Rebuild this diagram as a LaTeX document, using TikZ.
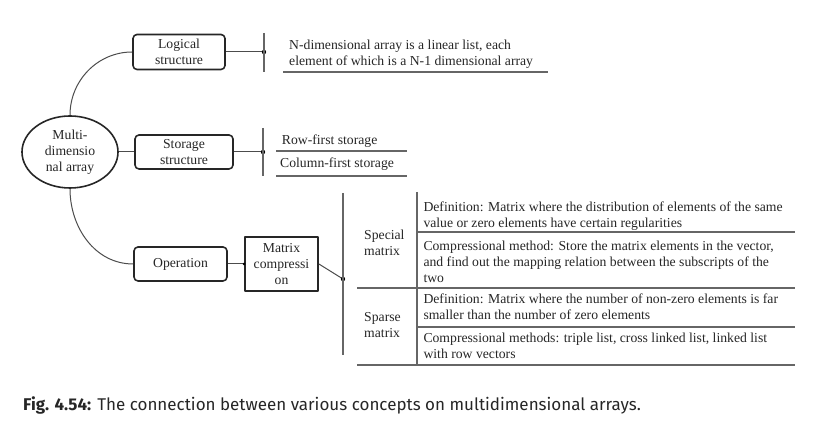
\documentclass[tikz,border=0pt]{standalone}
\usepackage{fontspec}
\setmainfont{Liberation Serif}
\newfontfamily\capfont{Fira Sans}
\usetikzlibrary{shapes.geometric}

\begin{document}
\begin{tikzpicture}[x=1pt, y=1pt, line join=round,
  every node/.style={font=\fontsize{13.7}{16}\selectfont, text=black!85},
  rbox/.style={draw=black!85, line width=1.6pt, rounded corners=4pt,
               align=center, inner sep=0pt},
  link/.style={draw=black!70, line width=1pt},
  rule/.style={draw=black!60, line width=1.1pt},
  cell/.style={anchor=north west, inner sep=0pt, align=left},
  jdot/.style={black, radius=2.2pt}]
  \useasboundingbox (0,0) rectangle (833,435);
  % Root concept
  \node[ellipse, draw=black!85, line width=1.6pt, minimum width=96,
        minimum height=72, inner sep=0pt, align=center] (multi) at (70,283)
        {Multi-\\dimensio\\nal array};
  % Three branches
  \node[rbox, minimum width=92, minimum height=35] (logical) at (179,383) {Logical\\structure};
  \node[rbox, minimum width=98, minimum height=34] (storage) at (184,283) {Storage\\structure};
  \node[rbox, minimum width=93, minimum height=34] (oper)    at (180.5,171) {Operation};
  \node[draw=black!85, line width=1.8pt, minimum width=73, minimum height=54,
        inner sep=0pt, align=center] (mcomp) at (281.5,171) {Matrix\\compressi\\on};
  % Junction points on the brackets
  \coordinate (j1) at (264,383);
  \coordinate (j2) at (263,283);
  \coordinate (j3) at (343,156);
  % Connectors
  \draw[link] (multi.north) to[out=90,in=180] (logical.west);
  \draw[link] (multi.south) to[out=-90,in=180] (oper.west);
  \draw[link] (multi) -- (storage);
  \draw[link] (logical) -- (j1);
  \draw[link] (storage) -- (j2);
  \draw[link] (oper) -- (mcomp);
  \draw[link] (mcomp.east) -- (j3);
  \fill[jdot] (j1) circle;
  \fill[jdot] (j2) circle;
  \fill[jdot] (j3) circle;
  \fill[black, radius=1.5pt] (mcomp.west) circle;
  % Brackets
  \draw[rule] (264,402) -- (264,363);
  \draw[rule] (263,307) -- (263,259);
  \draw[rule] (343,242) -- (343,80);
  % Logical structure
  \node[cell] (ndim) at (289,395.5)
    {N-dimensional array is a linear list, each\\element of which is a N-1 dimensional array};
  \draw[rule] (283,363) -- (548,363);
  % Storage structure
  \node[anchor=base west, inner sep=0pt] (rowf) at (281.7,290) {Row-first storage};
  \node[anchor=base west, inner sep=0pt] (colf) at (280,267) {Column-first storage};
  \draw[rule] (276,284) -- (407,284);
  \draw[rule] (276,259) -- (407,259);
  % Matrix compression table
  \node[anchor=west, inner sep=0pt, align=left] (special) at (364,192.5) {Special\\matrix};
  \node[anchor=west, inner sep=0pt, align=left] (sparse)  at (364,110)   {Sparse\\matrix};
  \draw[rule] (417,243) -- (417,70);
  \draw[rule] (417,203) -- (795,203);
  \draw[rule] (357,147) -- (795,147);
  \draw[rule] (417,108) -- (795,108);
  \draw[rule] (357,70)  -- (795,70);
  \node[cell] (spdef) at (423.3,233.5)
    {Definition: Matrix where the distribution of elements of the same\\value or zero elements have certain regularities};
  \node[cell] (spcomp) at (423.3,194.5)
    {Compressional method: Store the matrix elements in the vector,\\and find out the mapping relation between the subscripts of the\\two};
  \node[cell] (sadef) at (423.3,141.5)
    {Definition: Matrix where the number of non-zero elements is far\\smaller than the number of zero elements};
  \node[cell] (sacomp) at (423.3,102.5)
    {Compressional methods: triple list, cross linked list, linked list\\with row vectors};
  % Caption
  \node[anchor=base west, inner sep=0pt, font=\capfont\fontsize{17}{20}\selectfont]
    (caption) at (23,24) {\textbf{Fig. 4.54:} The connection between various concepts on multidimensional arrays.};
\end{tikzpicture}
\end{document}
